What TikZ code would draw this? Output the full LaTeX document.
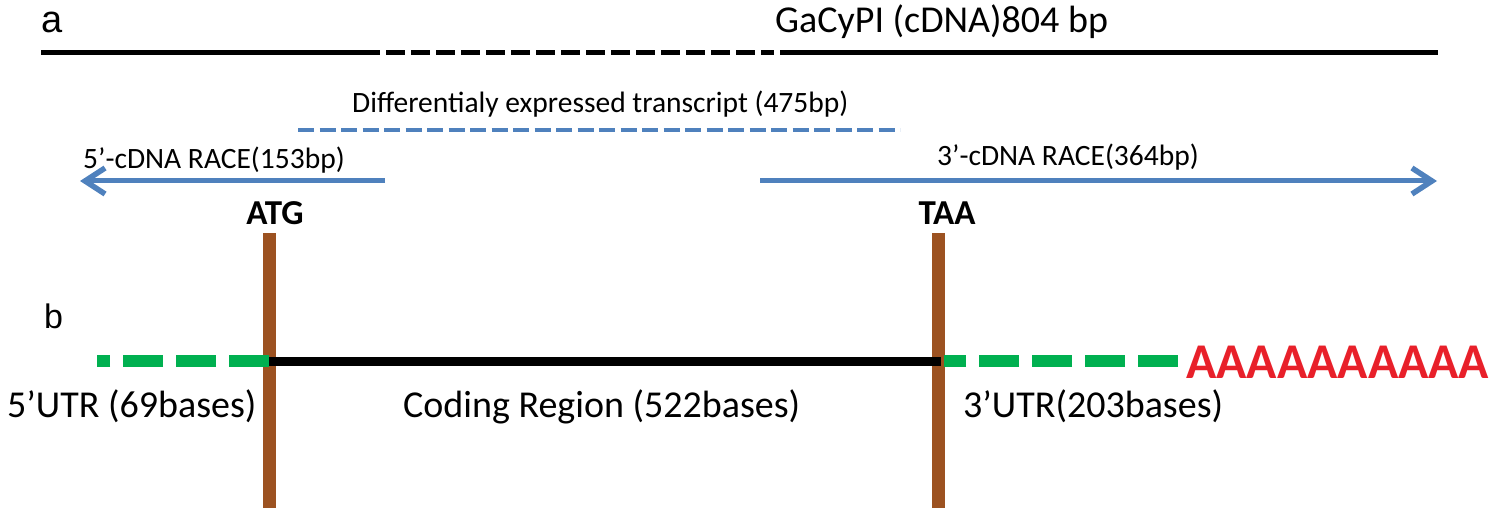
\documentclass[tikz,border=0pt]{standalone}
\usepackage{fontspec}
\setmainfont{Carlito}
\newfontfamily\arialf{Liberation Sans}
\usetikzlibrary{arrows.meta}
\definecolor{raceblue}{RGB}{79,129,189}
\definecolor{utrgreen}{RGB}{0,176,80}
\definecolor{codonbrown}{RGB}{156,82,33}
\definecolor{polyred}{RGB}{232,32,42}
\tikzset{
  lbl/.style={inner sep=0pt, anchor=base west, font=\fontsize{29.5}{32}\selectfont},
  biglbl/.style={inner sep=0pt, anchor=base west, font=\fontsize{38}{40}\selectfont},
  codon/.style={inner sep=0pt, anchor=base, font=\bfseries\fontsize{35}{37}\selectfont},
  panel/.style={inner sep=0pt, anchor=base west, font=\arialf\fontsize{38}{40}\selectfont},
  cdna/.style={line width=5.5pt, black},
  cdnadash/.style={line width=5.5pt, black, dash pattern=on 19pt off 6pt},
  degdash/.style={line width=4pt, raceblue, dash pattern=on 16pt off 5.5pt},
  race/.style={line width=5pt, raceblue, -{Straight Barb[length=20pt,width=26pt,line width=5.5pt]}},
  codonline/.style={line width=13pt, codonbrown},
  coding/.style={line width=9pt, black},
  utr/.style={line width=12pt, utrgreen, dash pattern=on 40pt off 13pt},
}
\begin{document}
\begin{tikzpicture}[x=1pt,y=-1pt]
\useasboundingbox (0,0) rectangle (1500,508);
% panel a
\node[panel] (pa) at (41,33) {a};
\node[biglbl] (title) at (775,33) {GaCyPI (cDNA)804 bp};
\coordinate (t0) at (41,52.5);
\coordinate (t1) at (380,52.5);
\coordinate (t2) at (386,52.5);
\coordinate (t3) at (774,52.5);
\coordinate (t4) at (780,52.5);
\coordinate (t5) at (1438,52.5);
\draw[cdna] (t0) -- (t1);
\draw[cdnadash] (t2) -- (t3);
\draw[cdna] (t4) -- (t5);
\node[lbl] (deg) at (352,113) {Differentialy expressed transcript (475bp)};
\coordinate (d0) at (298,130);
\coordinate (d1) at (900,130);
\draw[degdash] (d0) -- (d1);
\node[lbl] (r5) at (83,168) {5’-cDNA RACE(153bp)};
\node[lbl] (r3) at (937,165) {3’-cDNA RACE(364bp)};
\coordinate (l0) at (385,181);
\coordinate (l1) at (80,181);
\coordinate (q0) at (760,181);
\coordinate (q1) at (1437,181);
\draw[race] (l0) -- (l1);
\draw[race] (q0) -- (q1);
% codons
\node[codon] (atg) at (275,225) {ATG};
\node[codon] (taa) at (947,225) {TAA};
\coordinate (atgtop) at (269.5,233);
\coordinate (atgbot) at (269.5,508);
\coordinate (taatop) at (938,233);
\coordinate (taabot) at (938,508);
\draw[codonline] (atgtop) -- (atgbot);
\draw[codonline] (taatop) -- (taabot);
% panel b
\node[panel, font=\arialf\fontsize{34}{36}\selectfont] (pb) at (44,328) {b};
\coordinate (c0) at (269,361);
\coordinate (c1) at (941,361);
\coordinate (u5) at (97,361);
\coordinate (u3s) at (944,361);
\coordinate (u3e) at (1178,361);
\draw[utr] (c0) -- (u5);
\draw[utr] (u3e) -- (u3s);
\draw[coding] (c0) -- (c1);
\node[inner sep=0pt, anchor=base west, text=polyred, font=\bfseries\fontsize{50}{52}\selectfont] (polya) at (1186,378) {AAAAAAAAAA};
\node[biglbl] (utr5) at (7,417) {5’UTR (69bases)};
\node[biglbl] (cod) at (403,417) {Coding Region (522bases)};
\node[biglbl] (utr3) at (963,417) {3’UTR(203bases)};
\end{tikzpicture}
\end{document}
